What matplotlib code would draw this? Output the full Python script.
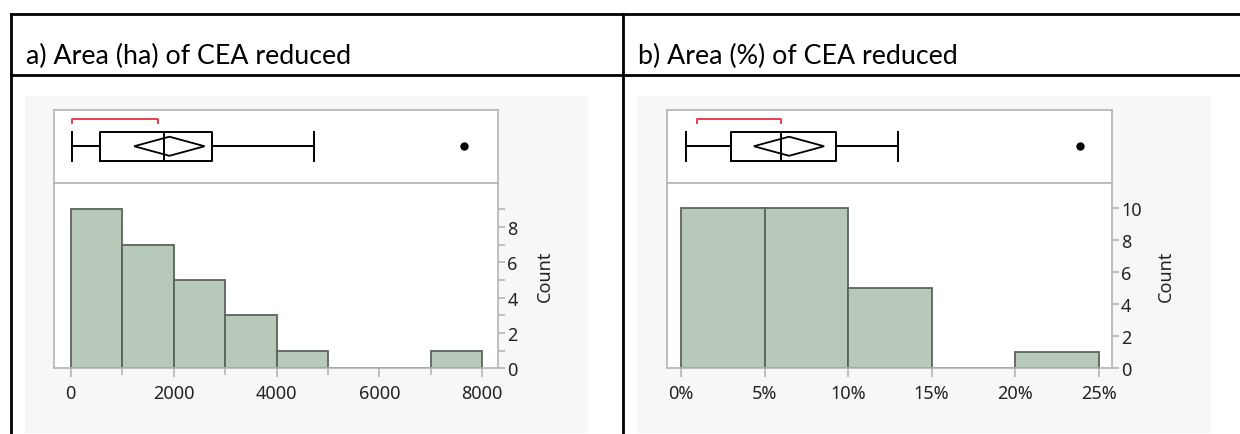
import matplotlib
matplotlib.use("Agg")
import matplotlib.pyplot as plt
from matplotlib.patches import Rectangle, Polygon
from matplotlib.lines import Line2D
from matplotlib.ticker import FixedLocator, PercentFormatter

# ---- data ----
titles = ["a) Area (ha) of CEA reduced", "b) Area (%) of CEA reduced"]

ha_edges = [0, 1000, 2000, 3000, 4000, 5000, 6000, 7000, 8000]
ha_counts = [9, 7, 5, 3, 1, 0, 0, 1]
ha_box = dict(whislo=23, q1=560, med=1820, q3=2750, whishi=4730, fliers=[7650])
ha_mean, ha_ci = 1918, (1234, 2602)
ha_short_half = (23, 1690)
ha_xticks = [0, 2000, 4000, 6000, 8000]
ha_xminor = [1000, 3000, 5000, 7000]
ha_yticks = [0, 2, 4, 6, 8]
ha_yminor = [1, 3, 5, 7, 9]

pct_edges = [0, 5, 10, 15, 20, 25]
pct_counts = [10, 10, 5, 0, 1]
pct_box = dict(whislo=0.3, q1=3.0, med=6.0, q3=9.3, whishi=13.0, fliers=[23.9])
pct_mean, pct_ci = 6.46, (4.35, 8.56)
pct_short_half = (0.96, 6.0)
pct_xticks = [0, 5, 10, 15, 20, 25]
pct_yticks = [0, 2, 4, 6, 8, 10]

W, H = 1240, 435
fig = plt.figure(figsize=(W / 100, H / 100), dpi=100)
fig.patch.set_facecolor("white")

tick_family = "Noto Sans"
tick_size = 13
frame_col = "#b4b4b4"
bar_fill = "#b9c9b9"
bar_edge = "#5b655b"


def px_axes(x0, y0, x1, y1):
    return fig.add_axes([x0 / W, 1 - y1 / H, (x1 - x0) / W, (y1 - y0) / H])


def fig_line(xs, ys, lw=2.0, color="black"):
    fig.add_artist(Line2D([x / W for x in xs], [1 - y / H for y in ys],
                          transform=fig.transFigure, lw=lw, color=color))


# table borders
fig_line([11, W], [15, 15])
fig_line([11, W], [76, 76])
fig_line([11, 11], [15, H])
fig_line([623, 623], [15, H])


def panel(px_left, px_right, px_x0, px_x1, xlim, ylim_top, edges, counts,
          box, mean, ci, short_half, title, title_x, pct,
          xticks, xminor, yticks, yminor, labelpad):
    # grey backdrop
    fig.add_artist(Rectangle((px_left / W, 1 - 434 / H), (px_right - px_left) / W,
                             (434 - 97) / H, transform=fig.transFigure,
                             facecolor="#f7f7f7", edgecolor="none", zorder=0))
    fig.text(title_x / W, 1 - 64 / H, title, family="Lato", fontsize=19.3,
             va="baseline", ha="left", color="black")

    axb = px_axes(px_x0, 110.5, px_x1, 184)
    axh = px_axes(px_x0, 184, px_x1, 369.3)
    for ax in (axb, axh):
        ax.set_facecolor("white")
        for s in ax.spines.values():
            s.set_color(frame_col)
            s.set_linewidth(1.2)
        ax.set_xlim(*xlim)

    # outlier box plot
    axb.bxp([dict(box)], positions=[0.5], widths=0.4, capwidths=0.4,
            orientation="horizontal",
            boxprops=dict(color="black", lw=1.4),
            whiskerprops=dict(color="black", lw=1.4),
            capprops=dict(color="black", lw=1.4),
            medianprops=dict(color="black", lw=1.4),
            flierprops=dict(marker="o", markerfacecolor="black",
                            markeredgecolor="black", markersize=5))
    # mean confidence diamond
    axb.add_patch(Polygon([(ci[0], 0.5), (mean, 0.63), (ci[1], 0.5), (mean, 0.37)],
                          closed=True, fill=False, edgecolor="black", lw=1.3))
    # shortest half bracket
    axb.plot([short_half[0], short_half[0], short_half[1], short_half[1]],
             [0.81, 0.865, 0.865, 0.81], color="#e8404f", lw=1.4)
    axb.set_ylim(0, 1)
    axb.set_xticks([])
    axb.set_yticks([])

    # histogram
    axh.bar(edges[:-1], counts, width=[b - a for a, b in zip(edges[:-1], edges[1:])],
            align="edge", color=bar_fill, edgecolor=bar_edge, lw=1.3, zorder=2)
    axh.set_ylim(0, ylim_top)
    axh.yaxis.tick_right()
    axh.yaxis.set_label_position("right")
    axh.yaxis.set_major_locator(FixedLocator(yticks))
    axh.xaxis.set_major_locator(FixedLocator(xticks))
    if yminor:
        axh.yaxis.set_minor_locator(FixedLocator(yminor))
    if xminor:
        axh.xaxis.set_minor_locator(FixedLocator(xminor))
    if pct:
        axh.xaxis.set_major_formatter(PercentFormatter(xmax=100, decimals=0))
    axh.tick_params(which="both", color=frame_col, width=1.2, labelcolor="#222222")
    axh.tick_params(axis="x", which="major", length=6.5, pad=5)
    axh.tick_params(axis="x", which="minor", length=5)
    axh.tick_params(axis="y", which="major", length=5, pad=1.5)
    axh.tick_params(axis="y", which="minor", length=5)
    for lab in axh.get_xticklabels() + axh.get_yticklabels():
        lab.set_fontfamily(tick_family)
        lab.set_fontsize(tick_size)
    axh.set_ylabel("Count", family=tick_family, fontsize=13,
                   color="#222222", labelpad=labelpad)


panel(25, 588, 54.3, 498.3, (-319, 8311), 10.49, ha_edges, ha_counts,
      ha_box, ha_mean, ha_ci, ha_short_half, titles[0], 26, False,
      ha_xticks, ha_xminor, ha_yticks, ha_yminor, 13)
panel(637, 1211, 666.5, 1112, (-0.88, 25.8), 11.57, pct_edges, pct_counts,
      pct_box, pct_mean, pct_ci, pct_short_half, titles[1], 638, True,
      pct_xticks, None, pct_yticks, None, 11)

fig.savefig("out.png", dpi=100)
